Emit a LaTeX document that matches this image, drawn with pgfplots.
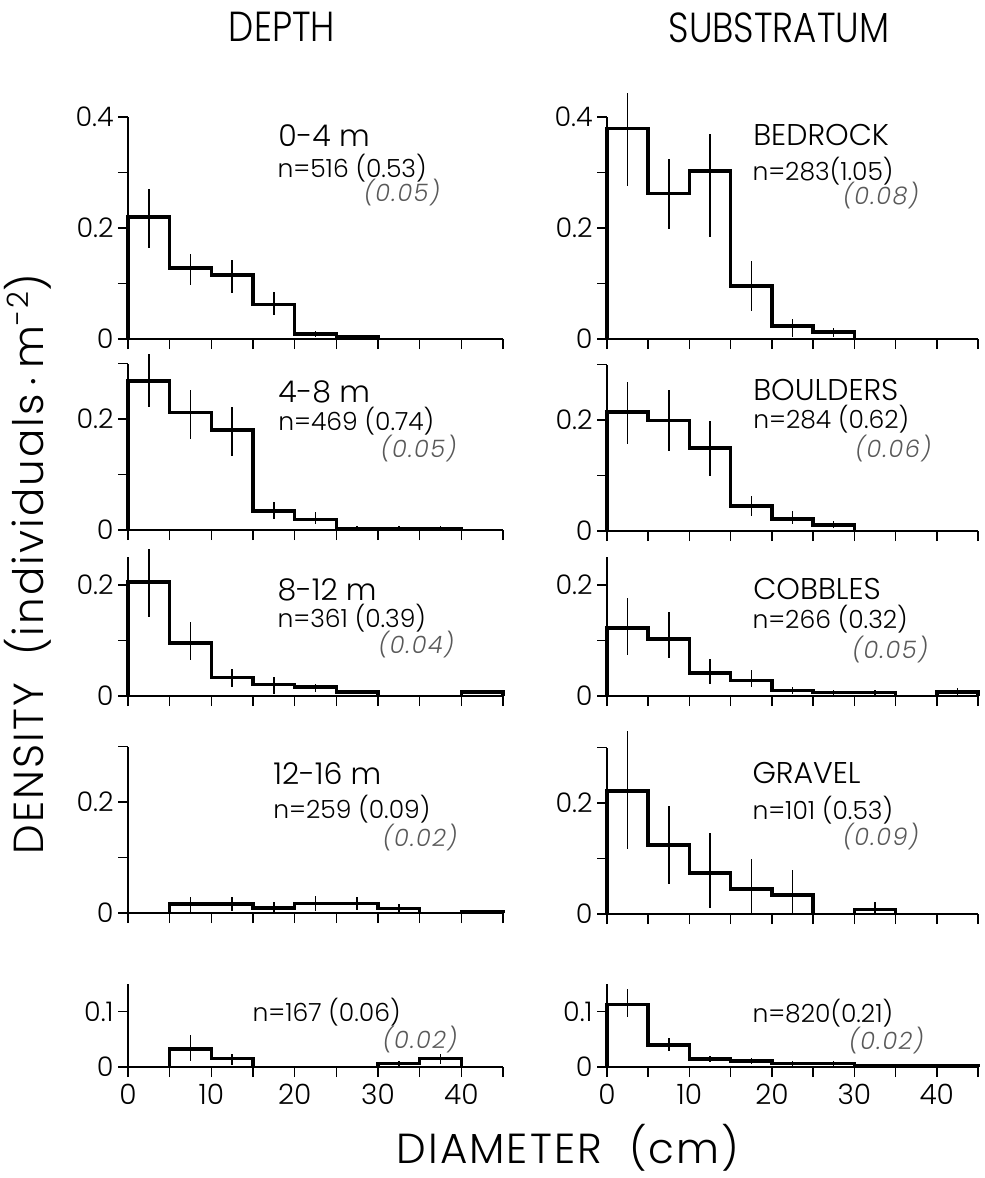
\documentclass[border=0pt]{standalone}
\usepackage{fontspec}
\IfFontExistsTF{Poppins Light}{\setmainfont{Poppins Light}}{\setmainfont{Poppins}}
\usepackage{pgfplots}
\pgfplotsset{compat=1.18}

% one panel = one histogram of 5 cm diameter classes
\pgfplotsset{
  panel/.style={
    scale only axis, clip=false,
    axis x line=bottom, axis y line=left,
    axis line style={-, line width=0.75pt},
    xmin=0, xmax=45, ymin=0,
    xtick={0,5,...,45}, xticklabels={},
    tick align=outside, major tick length=5pt,
    every tick/.style={black, line width=0.75pt},
    yticklabel style={font=\fontsize{13.5}{13.5}\selectfont, inner sep=2pt},
    xticklabel style={font=\fontsize{14}{14}\selectfont},
  },
  L/.style={panel, width=187.5pt},
  R/.style={panel, width=185.5pt},
  hist/.style={black, line width=1.8pt, const plot mark left, mark=none, line join=miter},
  ebar/.style={draw=none, mark=none,
    error bars/.cd, y dir=both, y explicit, error mark=none,
    error bar style={draw=black, solid, line width=0.75pt}},
}
\tikzset{
  ttl/.style={anchor=west, inner sep=0pt, font=\fontsize{15}{15}\selectfont},
  nn/.style={anchor=west, inner sep=0pt, font=\fontsize{12.5}{12.5}\selectfont},
  se/.style={anchor=east, inner sep=0pt, font=\fontsize{12}{12}\selectfont\itshape\addfontfeature{LetterSpace=6}, text=black!65},
  big/.style={font=\fontsize{21}{21}\selectfont\addfontfeature{LetterSpace=5}},
}

\begin{document}
\begin{tikzpicture}
\useasboundingbox (0,0) rectangle (492.5pt,-589pt);

% ---------- DEPTH column ----------
\begin{axis}[L, at={(64pt,-169.5pt)}, anchor=south west, height=111pt, ymax=0.4,
  ytick={0,0.1,0.2,0.3,0.4}, yticklabels={0,,0.2,,0.4}]
\addplot[hist] coordinates {(0,0)(0,0.220)(5,0.128)(10,0.115)(15,0.062)(20,0.009)(25,0.004)(30,0)};
\addplot[ebar] coordinates {
  (2.5,0.220) += (0,0.050) -= (0,0.056)
  (7.5,0.128) += (0,0.026) -= (0,0.030)
  (12.5,0.115) += (0,0.028) -= (0,0.032)
  (17.5,0.062) += (0,0.023) -= (0,0.018)
  (22.5,0.009) += (0,0.006) -= (0,0.006)
  (27.5,0.004) += (0,0.003) -= (0,0.003)};
\node[ttl] at (axis cs:18,0.366) {0-4 m};
\node[nn] at (axis cs:17.9,0.307) {n=516 (0.53)};
\node[se] at (axis cs:37.5,0.264) {(0.05)};
\end{axis}

\begin{axis}[L, at={(64pt,-265pt)}, anchor=south west, height=83.25pt, ymax=0.3,
  ytick={0,0.1,0.2,0.3}, yticklabels={0,,0.2,}]
\addplot[hist] coordinates {(0,0)(0,0.269)(5,0.212)(10,0.180)(15,0.034)(20,0.019)(25,0.003)(30,0.003)(35,0.003)(40,0)};
\addplot[ebar] coordinates {
  (2.5,0.269) += (0,0.049) -= (0,0.047)
  (7.5,0.212) += (0,0.041) -= (0,0.048)
  (12.5,0.180) += (0,0.041) -= (0,0.046)
  (17.5,0.034) += (0,0.016) -= (0,0.014)
  (22.5,0.019) += (0,0.013) -= (0,0.009)
  (27.5,0.003) += (0,0.005) -= (0,0.003)
  (32.5,0.003) += (0,0.005) -= (0,0.003)
  (37.5,0.003) += (0,0.005) -= (0,0.003)};
\node[ttl] at (axis cs:18,0.248) {4-8 m};
\node[nn] at (axis cs:18,0.196) {n=469 (0.74)};
\node[se] at (axis cs:39.5,0.147) {(0.05)};
\end{axis}

\begin{axis}[L, at={(64pt,-348pt)}, anchor=south west, height=69.4pt, ymax=0.25,
  ytick={0,0.1,0.2}, yticklabels={0,,0.2}]
\addplot[hist] coordinates {(0,0)(0,0.205)(5,0.095)(10,0.033)(15,0.021)(20,0.016)(25,0.007)(30,0)};
\addplot[hist] coordinates {(40,0)(40,0.007)(45,0)};
\addplot[ebar] coordinates {
  (2.5,0.205) += (0,0.060) -= (0,0.063)
  (7.5,0.095) += (0,0.038) -= (0,0.031)
  (12.5,0.033) += (0,0.016) -= (0,0.016)
  (17.5,0.021) += (0,0.013) -= (0,0.017)
  (22.5,0.016) += (0,0.006) -= (0,0.009)
  (27.5,0.007) += (0,0.004) -= (0,0.004)
  (42.5,0.007) += (0,0.004) -= (0,0.004)};
\node[ttl] at (axis cs:17.9,0.192) {8-12 m};
\node[nn] at (axis cs:17.9,0.141) {n=361 (0.39)};
\node[se] at (axis cs:39.2,0.092) {(0.04)};
\end{axis}

\begin{axis}[L, at={(64pt,-456.5pt)}, anchor=south west, height=83.25pt, ymax=0.3,
  ytick={0,0.1,0.2,0.3}, yticklabels={0,,0.2,}]
\addplot[hist] coordinates {(5,0)(5,0.016)(10,0.016)(15,0.009)(20,0.017)(25,0.017)(30,0.008)(35,0)};
\addplot[hist] coordinates {(40,0)(40,0.003)(45,0)};
\addplot[ebar] coordinates {
  (7.5,0.016) += (0,0.013) -= (0,0.014)
  (12.5,0.016) += (0,0.012) -= (0,0.012)
  (17.5,0.009) += (0,0.011) -= (0,0.009)
  (22.5,0.017) += (0,0.014) -= (0,0.013)
  (27.5,0.017) += (0,0.012) -= (0,0.012)
  (32.5,0.008) += (0,0.009) -= (0,0.008)
  (42.5,0.003) += (0,0.003) -= (0,0.003)};
\node[ttl] at (axis cs:17.4,0.251) {12-16 m};
\node[nn] at (axis cs:17.4,0.188) {n=259 (0.09)};
\node[se] at (axis cs:39.6,0.136) {(0.02)};
\end{axis}

\begin{axis}[L, at={(64pt,-533.5pt)}, anchor=south west, height=41.6pt, ymax=0.15,
  ytick={0,0.1}, yticklabels={0,0.1}, xticklabels={0,,10,,20,,30,,40,}]
\addplot[hist] coordinates {(5,0)(5,0.032)(10,0.015)(15,0)};
\addplot[hist] coordinates {(30,0)(30,0.006)(35,0.015)(40,0)};
\addplot[ebar] coordinates {
  (7.5,0.032) += (0,0.026) -= (0,0.021)
  (12.5,0.015) += (0,0.009) -= (0,0.012)
  (32.5,0.006) += (0,0.005) -= (0,0.005)
  (37.5,0.015) += (0,0.008) -= (0,0.010)};
\node[nn] at (axis cs:14.9,0.099) {n=167 (0.06)};
\node[se] at (axis cs:39.6,0.050) {(0.02)};
\end{axis}

% ---------- SUBSTRATUM column ----------
\begin{axis}[R, at={(303.5pt,-169.5pt)}, anchor=south west, height=111pt, ymax=0.4,
  ytick={0,0.1,0.2,0.3,0.4}, yticklabels={0,,0.2,,0.4}]
\addplot[hist] coordinates {(0,0)(0,0.379)(5,0.262)(10,0.303)(15,0.095)(20,0.023)(25,0.013)(30,0)};
\addplot[ebar] coordinates {
  (2.5,0.379) += (0,0.064) -= (0,0.103)
  (7.5,0.262) += (0,0.062) -= (0,0.063)
  (12.5,0.303) += (0,0.066) -= (0,0.119)
  (17.5,0.095) += (0,0.046) -= (0,0.044)
  (22.5,0.023) += (0,0.013) -= (0,0.019)
  (27.5,0.013) += (0,0.006) -= (0,0.009)};
\node[ttl] at (axis cs:17.7,0.368) {BEDROCK};
\node[nn] at (axis cs:17.6,0.302) {n=283(1.05)};
\node[se] at (axis cs:37.9,0.259) {(0.08)};
\end{axis}

\begin{axis}[R, at={(303.5pt,-265.5pt)}, anchor=south west, height=83.25pt, ymax=0.3,
  ytick={0,0.1,0.2,0.3}, yticklabels={0,,0.2,}]
\addplot[hist] coordinates {(0,0)(0,0.214)(5,0.199)(10,0.150)(15,0.045)(20,0.022)(25,0.011)(30,0)};
\addplot[ebar] coordinates {
  (2.5,0.214) += (0,0.055) -= (0,0.058)
  (7.5,0.199) += (0,0.055) -= (0,0.055)
  (12.5,0.150) += (0,0.048) -= (0,0.050)
  (17.5,0.045) += (0,0.018) -= (0,0.018)
  (22.5,0.022) += (0,0.014) -= (0,0.010)
  (27.5,0.011) += (0,0.007) -= (0,0.006)};
\node[ttl] at (axis cs:17.7,0.254) {BOULDERS};
\node[nn] at (axis cs:17.7,0.201) {n=284 (0.62)};
\node[se] at (axis cs:39.4,0.148) {(0.06)};
\end{axis}

\begin{axis}[R, at={(303.5pt,-348pt)}, anchor=south west, height=69.4pt, ymax=0.25,
  ytick={0,0.1,0.2}, yticklabels={0,,0.2}]
\addplot[hist] coordinates {(0,0)(0,0.123)(5,0.103)(10,0.041)(15,0.028)(20,0.010)(25,0.006)(30,0.006)(35,0)};
\addplot[hist] coordinates {(40,0)(40,0.007)(45,0)};
\addplot[ebar] coordinates {
  (2.5,0.123) += (0,0.054) -= (0,0.049)
  (7.5,0.103) += (0,0.048) -= (0,0.034)
  (12.5,0.041) += (0,0.026) -= (0,0.019)
  (17.5,0.028) += (0,0.018) -= (0,0.012)
  (22.5,0.010) += (0,0.006) -= (0,0.007)
  (27.5,0.006) += (0,0.004) -= (0,0.004)
  (32.5,0.006) += (0,0.004) -= (0,0.004)
  (42.5,0.007) += (0,0.008) -= (0,0.005)};
\node[ttl] at (axis cs:17.7,0.192) {COBBLES};
\node[nn] at (axis cs:17.6,0.138) {n=266 (0.32)};
\node[se] at (axis cs:39,0.084) {(0.05)};
\end{axis}

\begin{axis}[R, at={(303.5pt,-457pt)}, anchor=south west, height=83.25pt, ymax=0.3,
  ytick={0,0.1,0.2,0.3}, yticklabels={0,,0.2,}]
\addplot[hist] coordinates {(0,0)(0,0.222)(5,0.124)(10,0.074)(15,0.045)(20,0.034)(25,0)};
\addplot[hist] coordinates {(30,0)(30,0.008)(35,0)};
\addplot[ebar] coordinates {
  (2.5,0.222) += (0,0.108) -= (0,0.104)
  (7.5,0.124) += (0,0.070) -= (0,0.070)
  (12.5,0.074) += (0,0.072) -= (0,0.063)
  (17.5,0.045) += (0,0.055) -= (0,0.043)
  (22.5,0.034) += (0,0.046) -= (0,0.034)
  (32.5,0.008) += (0,0.014) -= (0,0.008)};
\node[ttl] at (axis cs:17.6,0.254) {GRAVEL};
\node[nn] at (axis cs:17.6,0.188) {n=101 (0.53)};
\node[se] at (axis cs:37.9,0.139) {(0.09)};
\end{axis}

\begin{axis}[R, at={(303.5pt,-533.5pt)}, anchor=south west, height=41.6pt, ymax=0.15,
  ytick={0,0.1}, yticklabels={0,0.1}, xticklabels={0,,10,,20,,30,,40,}]
\addplot[hist] coordinates {(0,0)(0,0.113)(5,0.040)(10,0.014)(15,0.011)(20,0.006)(25,0.006)(30,0.003)(35,0.003)(40,0.003)(45,0)};
\addplot[ebar] coordinates {
  (2.5,0.113) += (0,0.028) -= (0,0.022)
  (7.5,0.040) += (0,0.012) -= (0,0.012)
  (12.5,0.014) += (0,0.006) -= (0,0.005)
  (17.5,0.011) += (0,0.005) -= (0,0.005)
  (22.5,0.006) += (0,0.004) -= (0,0.004)
  (27.5,0.006) += (0,0.004) -= (0,0.004)
  (32.5,0.003) += (0,0.003) -= (0,0.003)
  (37.5,0.003) += (0,0.003) -= (0,0.003)
  (42.5,0.003) += (0,0.003) -= (0,0.003)};
\node[nn] at (axis cs:17.6,0.097) {n=820(0.21)};
\node[se] at (axis cs:38.5,0.048) {(0.02)};
\end{axis}

% ---------- column titles and axis titles ----------
\node[font=\fontsize{21}{21}\selectfont, xscale=0.85, transform shape] at (141pt,-13.5pt) {DEPTH};
\node[font=\fontsize{21}{21}\selectfont, xscale=0.85, transform shape] at (389.5pt,-14pt) {SUBSTRATUM};
\node[big, rotate=90] at (14pt,-282pt) {DENSITY\ \ (individuals\,$\cdot$\,m\textsuperscript{-2})};
\node[big, inner sep=0pt] at (284pt,-574pt) {DIAMETER\ \ (cm)};
\end{tikzpicture}
\end{document}
